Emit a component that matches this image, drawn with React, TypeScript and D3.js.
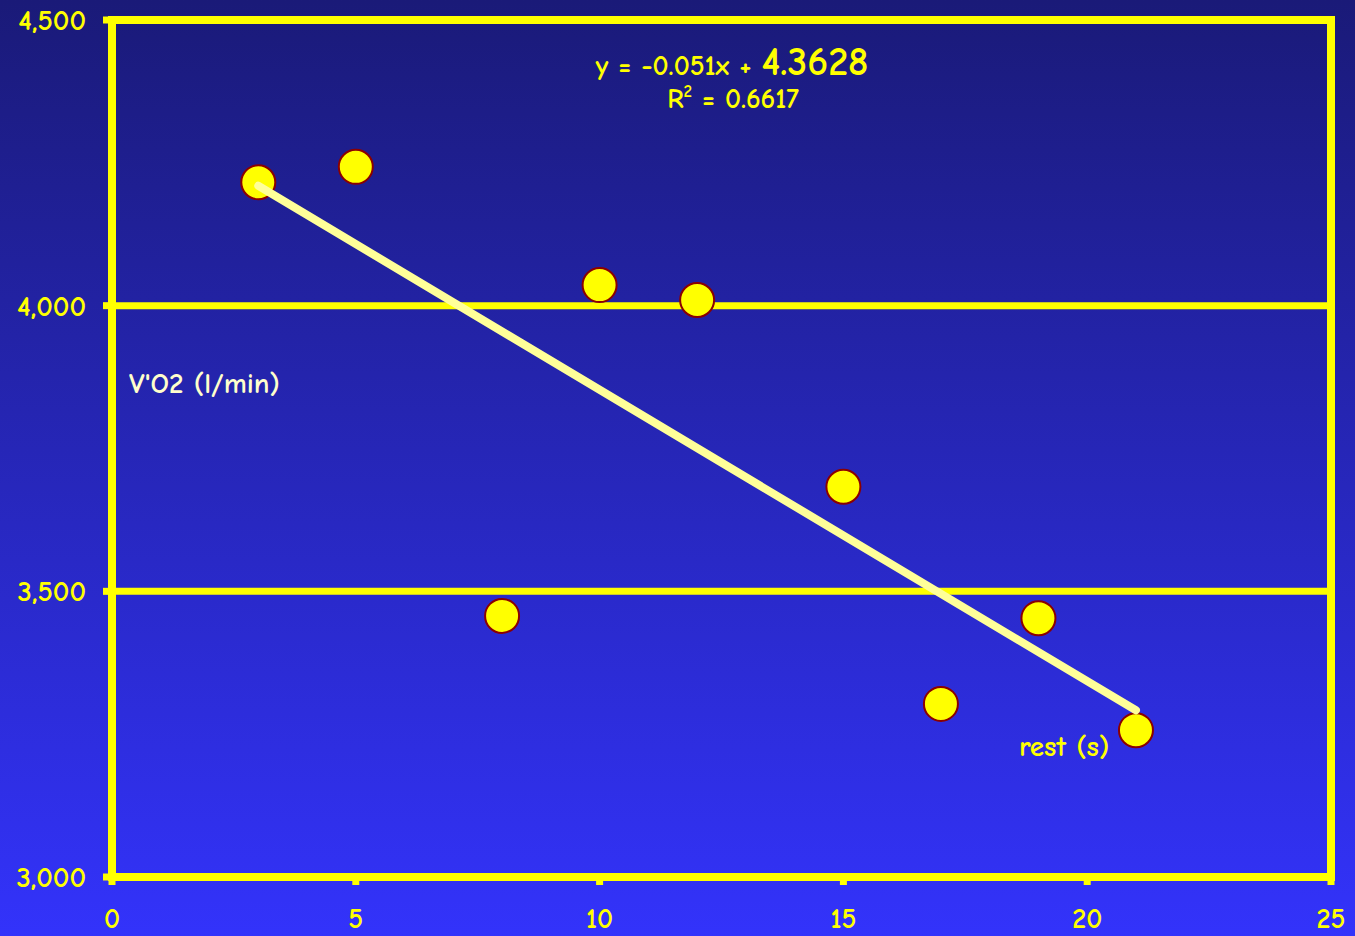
import React from "react";
import * as d3 from "d3";

// Rest interval (s) vs oxygen uptake V'O2
const restSeconds = [3, 5, 8, 10, 12, 15, 17, 19, 21];
const vo2Values = [4216, 4243, 3457, 4036, 4010, 3683, 3303, 3453, 3257];

const xTicks = [0, 5, 10, 15, 20, 25];
const yTicks = [3000, 3500, 4000, 4500];
const gridValues = [3500, 4000];

// Linear fit (values in l/min, scaled by 1000 for the axis)
const fitSlope = -0.051;
const fitIntercept = 4.3628;
const fitRange = [3, 21];

const WIDTH = 1355;
const HEIGHT = 936;
const FONT = "'Comic Sans MS', 'Comic Neue', Lato, 'Open Sans', sans-serif";

export default function App() {
  const x = d3.scaleLinear().domain([0, 25]).range([112, 1331]);
  const y = d3.scaleLinear().domain([3000, 4500]).range([877, 20]);

  const fitLine = d3
    .line<number>()
    .x((d) => x(d))
    .y((d) => y((fitSlope * d + fitIntercept) * 1000));

  const yellow = "#ffff00";

  return (
    <svg
      width={WIDTH}
      height={HEIGHT}
      style={{ position: "absolute", left: 0, top: 0, display: "block" }}
      fontFamily={FONT}
    >
      <defs>
        <linearGradient id="bg" x1="0" y1="0" x2="0" y2="1">
          <stop offset="0" stopColor="#1a1a78" />
          <stop offset="1" stopColor="#3333fb" />
        </linearGradient>
      </defs>
      <rect x={0} y={0} width={WIDTH} height={HEIGHT} fill="url(#bg)" />

      {/* horizontal gridlines */}
      {gridValues.map((v) => (
        <line
          key={"g" + v}
          x1={x(0)}
          x2={x(25)}
          y1={y(v)}
          y2={y(v)}
          stroke={yellow}
          strokeWidth={7}
        />
      ))}

      {/* plot frame */}
      <rect
        x={x(0)}
        y={y(4500)}
        width={x(25) - x(0)}
        height={y(3000) - y(4500)}
        fill="none"
        stroke={yellow}
        strokeWidth={8}
      />

      {/* y ticks and labels */}
      {yTicks.map((v) => (
        <g key={"y" + v}>
          <line x1={x(0) - 9} x2={x(0)} y1={y(v)} y2={y(v)} stroke={yellow} strokeWidth={7} />
          <text
            x={86}
            y={y(v)}
            dy="0.35em"
            textAnchor="end"
            fill={yellow}
            fontSize={29}
            fontWeight="bold"
          >
            {d3.format(",")(v)}
          </text>
        </g>
      ))}

      {/* x ticks and labels */}
      {xTicks.map((v) => (
        <g key={"x" + v}>
          <line x1={x(v)} x2={x(v)} y1={y(3000)} y2={y(3000) + 8} stroke={yellow} strokeWidth={7} />
          <text
            x={x(v)}
            y={928}
            textAnchor="middle"
            fill={yellow}
            fontSize={28}
            fontWeight="bold"
          >
            {v}
          </text>
        </g>
      ))}

      {/* data points */}
      {restSeconds.map((r, i) => (
        <circle
          key={"p" + i}
          cx={x(r)}
          cy={y(vo2Values[i])}
          r={17}
          fill={yellow}
          stroke="#8b0000"
          strokeWidth={2}
        />
      ))}

      {/* trend line */}
      <path
        d={fitLine(fitRange) || ""}
        fill="none"
        stroke="#ffff99"
        strokeWidth={8}
        strokeLinecap="round"
      />

      {/* regression equation */}
      <text x={732} y={75} textAnchor="middle" fill={yellow} fontWeight="bold">
        <tspan fontSize={28}>y = -0.051x + </tspan>
        <tspan fontSize={40}>4.3628</tspan>
      </text>
      <text x={733} y={108} textAnchor="middle" fill={yellow} fontWeight="bold" fontSize={28}>
        R<tspan fontSize={17} dy={-11}>2</tspan>
        <tspan dy={11}> = 0.6617</tspan>
      </text>

      {/* axis titles */}
      <text x={129} y={393} fill="#ffffcc" fontWeight="bold" fontSize={29}>
        V'O2 (l/min)
      </text>
      <text x={1019} y={756} fill={yellow} fontWeight="bold" fontSize={29}>
        rest (s)
      </text>
    </svg>
  );
}
